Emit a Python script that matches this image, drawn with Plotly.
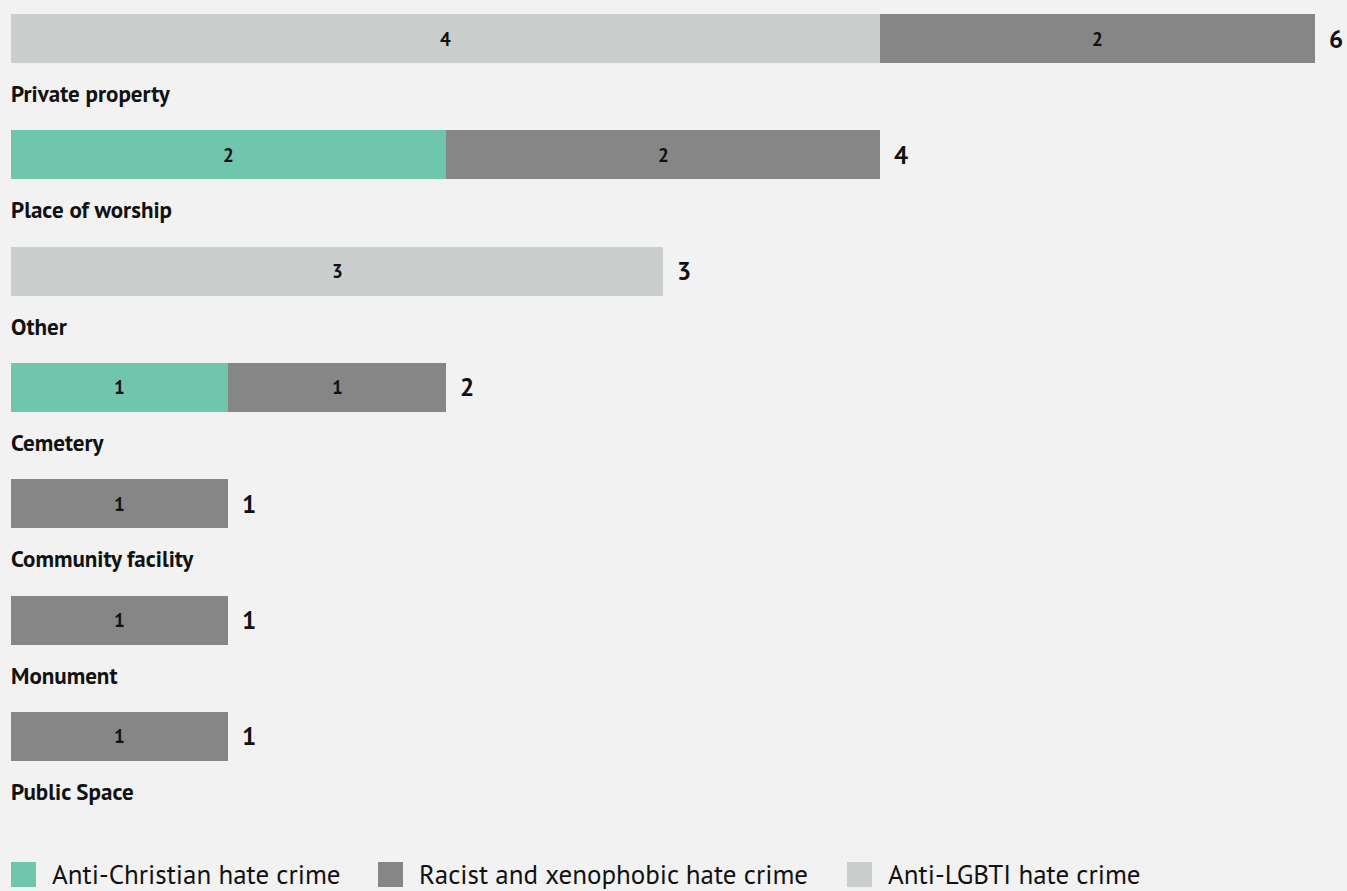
import plotly.graph_objects as go

categories = ["Private property", "Place of worship", "Other", "Cemetery",
              "Community facility", "Monument", "Public Space"]
anti_christian = [0, 2, 0, 1, 0, 0, 0]
racist = [2, 2, 0, 1, 1, 1, 1]
anti_lgbti = [4, 0, 3, 0, 0, 0, 0]

series_names = ["Anti-Christian hate crime", "Anti-LGBTI hate crime",
                "Racist and xenophobic hate crime"]
series_values = [anti_christian, anti_lgbti, racist]
series_colors = ["#70c5ad", "#cacfce", "#868686"]

legend_names = ["Anti-Christian hate crime", "Racist and xenophobic hate crime",
                "Anti-LGBTI hate crime"]
legend_colors = ["#70c5ad", "#868686", "#cacfce"]

totals = [a + b + c for a, b, c in zip(anti_christian, racist, anti_lgbti)]

FONT = "PT Sans, Noto Sans, Open Sans, sans-serif"

fig = go.Figure()
base = [0] * len(categories)
for name, vals, color in zip(series_names, series_values, series_colors):
    fig.add_trace(go.Bar(
        y=categories,
        x=[v if v else None for v in vals],
        name=name,
        orientation="h",
        marker=dict(color=color, line=dict(width=0)),
        width=0.42,
        showlegend=False,
        hoverinfo="skip",
    ))
    # value label centred in each segment
    for i, (cat, v) in enumerate(zip(categories, vals)):
        if v:
            fig.add_annotation(x=base[i] + v / 2, y=cat, text=f"<b>{v}</b>",
                               showarrow=False, xanchor="center", yanchor="middle",
                               font=dict(family=FONT, size=19, color="#111111"))
        base[i] += v

for cat, t in zip(categories, totals):
    fig.add_annotation(x=t, y=cat, text=f"<b>{t}</b>", showarrow=False,
                       xanchor="left", xshift=12,
                       font=dict(family=FONT, size=25, color="#111111"))
    fig.add_annotation(x=0, y=cat, text=f"<b>{cat}</b>", showarrow=False,
                       xanchor="left", yanchor="middle", yshift=-55, xshift=-2,
                       font=dict(family=FONT, size=23, color="#111111"))

# custom legend (large square swatches)
PLOT_W = 1347 - 11 - 32
PLOT_H = 891 - 91
swatch_left_px = [11, 378, 847]
sw = 25
sy0, sy1 = 862, 887
for name, color, left in zip(legend_names, legend_colors, swatch_left_px):
    x0 = (left - 11) / PLOT_W
    x1 = (left + sw - 11) / PLOT_W
    fig.add_shape(type="rect", xref="paper", yref="paper",
                  x0=x0, x1=x1, y0=(PLOT_H - sy1) / PLOT_H, y1=(PLOT_H - sy0) / PLOT_H,
                  fillcolor=color, line=dict(width=0))
    fig.add_annotation(xref="paper", yref="paper", x=(left + sw + 14 - 11) / PLOT_W,
                       y=(PLOT_H - 874) / PLOT_H,
                       text=name, showarrow=False, xanchor="left", yanchor="middle",
                       font=dict(family=FONT, size=27, color="#111111"))

fig.update_layout(
    width=1347, height=891,
    barmode="stack",
    paper_bgcolor="#f2f2f2",
    plot_bgcolor="#f2f2f2",
    margin=dict(l=11, r=32, t=0, b=91),
    xaxis=dict(range=[0, 6], visible=False),
    yaxis=dict(categoryorder="array", categoryarray=categories,
               range=[6.546, -0.331], visible=False),
    showlegend=False,
)

fig.write_html("out.html", config={"displayModeBar": False},
               post_script="document.body.style.margin='0';document.body.style.overflow='hidden';")
